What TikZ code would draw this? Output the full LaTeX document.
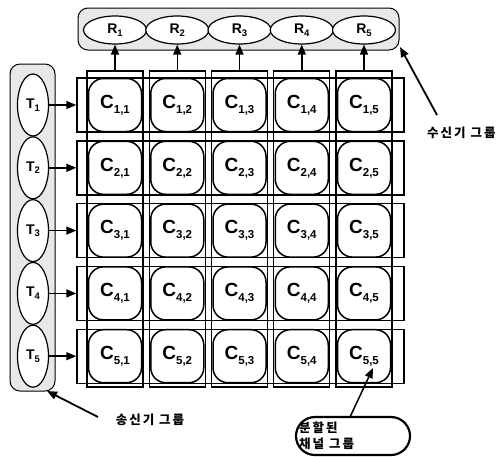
\documentclass[tikz,border=0pt]{standalone}
\usepackage{fontspec}
\setmainfont{Liberation Sans}
\newfontfamily\kr[LetterSpace=16]{Noto Sans CJK KR}
\usetikzlibrary{shapes.geometric,arrows.meta}
\newcommand\csub[1]{C\raisebox{-0.5ex}{\fontsize{11.5}{11.5}\selectfont #1}}
\newcommand\rsub[2]{#1\raisebox{-0.35ex}{\fontsize{9.5}{9.5}\selectfont #2}}
\begin{document}
\begin{tikzpicture}[x=1pt,y=-1pt,
 cellbox/.style={draw,line width=1.5pt,rounded corners=15pt,minimum width=53pt,minimum height=53pt,fill=white,inner sep=0pt,font=\fontsize{19}{19}\selectfont\bfseries},
 rowbox/.style={draw,line width=1.4pt,minimum width=327pt,minimum height=54pt,inner sep=0pt},
 colbox/.style={draw,line width=1.4pt,minimum width=56pt,minimum height=316pt,inner sep=0pt},
 grp/.style={draw,line width=1pt,rounded corners=10pt,fill=gray!18,inner sep=0pt},
 rell/.style={ellipse,draw,line width=1.2pt,fill=white,minimum width=63pt,minimum height=28pt,inner sep=0pt,font=\fontsize{14}{14}\selectfont\bfseries},
 tell/.style={ellipse,draw,line width=1.2pt,fill=white,minimum width=31pt,minimum height=62pt,inner sep=0pt,font=\fontsize{14}{14}\selectfont\bfseries},
 arr/.style={line width=1.5pt,-{Triangle[length=10pt,width=8pt]}},
 krlab/.style={font=\kr\bfseries\fontsize{12.5}{12.5}\selectfont,inner sep=0pt}]
\useasboundingbox (0,0) rectangle (502,456);
\clip (0,0) rectangle (502,456);
% groups
\node[grp,minimum width=321pt,minimum height=42pt] (rgrp) at (238.5,29) {};
\node[grp,minimum width=45pt,minimum height=327pt] (tgrp) at (32.5,227.5) {};
\foreach \j in {1,...,5} {
  \pgfmathsetmacro\xx{115+62.25*(\j-1)}
  \node[rell] (R\j) at (\xx,30) {\rsub{R}{\j}};
}
\foreach \i in {1,...,5} {
  \pgfmathsetmacro\yy{105+62.8*(\i-1)}
  \node[tell] (T\i) at (33,\yy) {\rsub{T}{\i}};
}
% row and column boxes
\foreach \i in {1,...,5} {
  \pgfmathsetmacro\yy{105+62.8*(\i-1)}
  \node[rowbox] (row\i) at (240.5,\yy) {};
}
\foreach \j in {1,...,5} {
  \pgfmathsetmacro\xx{115+62.25*(\j-1)}
  \node[colbox] (col\j) at (\xx,229) {};
}
% cells
\foreach \i in {1,...,5} {
  \foreach \j in {1,...,5} {
    \pgfmathsetmacro\xx{115+62.25*(\j-1)}
    \pgfmathsetmacro\yy{105+62.8*(\i-1)}
    \node[cellbox] (c\i\j) at (\xx,\yy) {\csub{\i,\j}};
  }
}
% arrows
\foreach \j in {1,...,5} { \draw[arr] (col\j.north) -- (R\j.south); }
\foreach \i in {1,...,5} { \draw[arr] (T\i.east) -- (row\i.west); }
% labels
\node[krlab,anchor=west] (rlab) at (427,133) {수신기 그룹};
\coordinate (rtail) at (437,115);
\coordinate (rtip) at (400,47);
\draw[arr,line width=1.8pt] (rtail) -- (rtip);
\node[krlab] (tlab) at (150,420) {송신기 그룹};
\coordinate (ttail) at (98,417);
\coordinate (ttip) at (47,391);
\draw[arr,line width=1.8pt] (ttail) -- (ttip);
\node[draw,line width=2.2pt,rounded corners=19pt,minimum width=114pt,minimum height=38pt] (clab) at (353,436) {};
\node[krlab,anchor=west] (clab1) at (299,428) {분할된};
\node[krlab,anchor=west] (clab2) at (299,444) {채널 그룹};
\coordinate (ctip) at (373,368);
\draw[arr] (350,417) -- (ctip);
\end{tikzpicture}
\end{document}
